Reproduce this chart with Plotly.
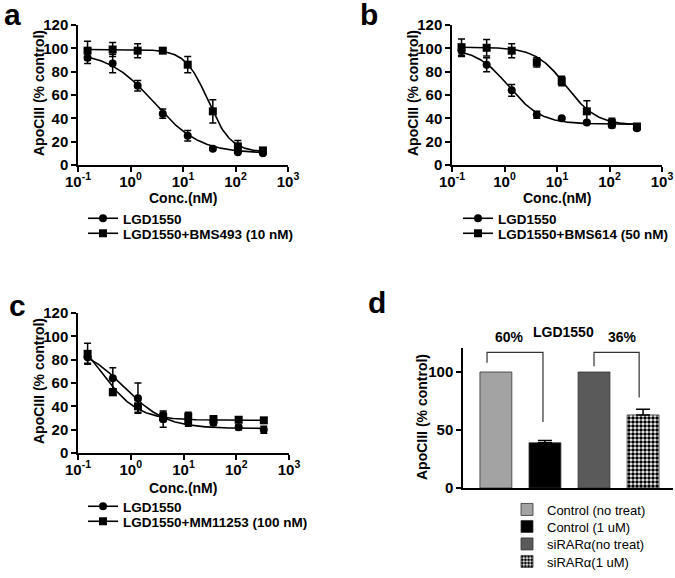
import numpy as np
import plotly.graph_objects as go

FONT = "Liberation Sans, Arial, sans-serif"

# ---------------- data ----------------
conc = [0.152, 0.457, 1.37, 4.12, 12.3, 37.0, 111.0, 333.0]
x_tickvals = [0.1, 1, 10, 100, 1000]
x_ticktext = ["10<sup>-1</sup>", "10<sup>0</sup>", "10<sup>1</sup>", "10<sup>2</sup>", "10<sup>3</sup>"]
y_tickvals = [0, 20, 40, 60, 80, 100, 120]
x_title = "Conc.(nM)"
y_title = "ApoCIII (% control)"

# panel a
a_lgd = [92, 87, 68, 44, 25, 14, 11, 10]
a_lgd_err = [5, 8, 4.5, 4, 4.5, 1, 1, 1]
a_bms = [98, 99, 98, 98, 86, 46, 16, 12.5]
a_bms_err = [8, 6, 6, 2, 7, 10, 5, 2]
# 4PL fit parameters: top, bottom, IC50, hill
a_lgd_fit = [97, 10, 2.8, 1.0]
a_bms_fit = [99, 11, 30, 2.0]

# panel b
b_lgd = [98, 86, 64, 43, 40, 36.5, 34, 31.5]
b_lgd_err = [5, 6, 5, 3, 1, 1, 1, 1]
b_bms = [101, 100.5, 98, 88, 72, 46, 36, 33]
b_bms_err = [7, 7, 6, 4, 4, 9, 4, 2]
b_lgd_fit = [100, 35, 1.2, 1.4]
b_bms_fit = [101, 34, 15, 1.5]

# panel c
c_lgd = [82, 64, 47, 29, 26, 26, 22, 20]
c_lgd_err = [5, 9, 13, 7, 3, 2, 2, 3]
c_mm = [85, 52, 40, 31, 31, 29, 28.5, 28]
c_mm_err = [9, 2, 5, 4, 4, 3, 2, 2]
c_lgd_fit = [92, 21, 0.75, 1.1]
c_mm_fit = [112, 28, 0.27, 1.25]

# panel d
d_categories = ["Control (no treat)", "Control (1 uM)", "siRARα(no treat)", "siRARα(1 uM)"]
d_values = [100, 39, 100, 63]
d_err = [0, 2, 0, 5]
d_pct_labels = ["60%", "36%"]
d_title = "LGD1550"

W, H = 675, 578


def px_x(p):
    return p / W


def px_y(p):
    return 1 - p / H


fig = go.Figure()


def curve(params, xs):
    top, bottom, ic50, hill = params
    xs = np.asarray(xs)
    return bottom + (top - bottom) / (1 + (xs / ic50) ** hill)


def add_dose_panel(xa, ya, legends, s1, e1, f1, name1, s2, e2, f2, name2):
    xs = np.logspace(np.log10(conc[0]), np.log10(conc[-1]), 200)
    for vals, err, fit, sym, name, leg in [(s1, e1, f1, "circle", name1, legends[0]),
                                           (s2, e2, f2, "square", name2, legends[1])]:
        fig.add_trace(go.Scatter(
            x=xs, y=curve(fit, xs), mode="lines", line=dict(color="black", width=1.6),
            xaxis=xa, yaxis=ya, showlegend=False, hoverinfo="skip"))
        fig.add_trace(go.Scatter(
            x=conc, y=vals, mode="markers",
            marker=dict(symbol=sym, size=8, color="black"),
            error_y=dict(type="data", array=err, color="black", thickness=1.5, width=3.5),
            xaxis=xa, yaxis=ya, showlegend=False, name=name))
        fig.add_trace(go.Scatter(
            x=[None], y=[None], mode="lines+markers",
            marker=dict(symbol=sym, size=8, color="black"),
            line=dict(color="black", width=1.6),
            xaxis=xa, yaxis=ya, name=name, legend=leg, showlegend=True))


add_dose_panel("x", "y", ["legend", "legend2"], a_lgd, a_lgd_err, a_lgd_fit, "LGD1550",
               a_bms, a_bms_err, a_bms_fit, "LGD1550+BMS493 (10 nM)")
add_dose_panel("x2", "y2", ["legend3", "legend4"], b_lgd, b_lgd_err, b_lgd_fit, "LGD1550",
               b_bms, b_bms_err, b_bms_fit, "LGD1550+BMS614 (50 nM)")
add_dose_panel("x3", "y3", ["legend5", "legend6"], c_lgd, c_lgd_err, c_lgd_fit, "LGD1550",
               c_mm, c_mm_err, c_mm_fit, "LGD1550+MM11253 (100 nM)")

# panel d bars
bar_colors = ["#a3a3a3", "#000000", "#5a5a5a", "#000000"]
for i, cat in enumerate(d_categories):
    marker = dict(color=bar_colors[i], line=dict(color="#333333", width=0.8))
    if i == 3:
        marker["pattern"] = dict(shape=".", fgcolor="black", bgcolor="white", size=4,
                                 solidity=0.62, fgopacity=1, fillmode="replace")
    kw = {}
    if d_err[i] > 0:
        kw["error_y"] = dict(type="data", symmetric=False, array=[d_err[i]], arrayminus=[0],
                             color="black", thickness=1.5, width=7)
    fig.add_trace(go.Bar(x=[cat], y=[d_values[i]], width=0.65, marker=marker, name=cat,
                         xaxis="x4", yaxis="y4", legend="legend%d" % (7 + i), **kw))

tickfont = dict(family=FONT, size=15, color="black", weight="bold")
titlefont = dict(family=FONT, size=14, color="black", weight="bold")


def dose_axes(xdom, ydom, anchor_x, anchor_y):
    xa = dict(domain=xdom, anchor=anchor_y, type="log", range=[-1, 3], tickvals=x_tickvals,
              ticktext=x_ticktext, ticks="outside", ticklen=5, tickwidth=1.5, tickcolor="black",
              showline=True, linecolor="black", linewidth=1.5, showgrid=False, zeroline=False,
              tickfont=tickfont, ticklabelstandoff=-3)
    ya = dict(domain=ydom, anchor=anchor_x, range=[0, 120], tickvals=y_tickvals,
              ticks="outside", ticklen=5, tickwidth=1.5, tickcolor="black",
              showline=True, linecolor="black", linewidth=1.5, showgrid=False, zeroline=False,
              tickfont=tickfont)
    return xa, ya


xa1, ya1 = dose_axes([px_x(78), px_x(288)], [px_y(165), px_y(25)], "x", "y")
xa2, ya2 = dose_axes([px_x(452), px_x(662)], [px_y(165), px_y(25)], "x2", "y2")
xa3, ya3 = dose_axes([px_x(78), px_x(289)], [px_y(453), px_y(313)], "x3", "y3")

xa4 = dict(domain=[px_x(463), px_x(673)], anchor="y4", type="category", range=[-0.67, 3.61],
           showticklabels=False, ticks="", showline=True, linecolor="black", linewidth=1.5,
           showgrid=False, zeroline=False)
ya4 = dict(domain=[px_y(488), px_y(348)], anchor="x4", range=[0, 120.7], tickvals=[0, 50, 100],
           ticks="outside", ticklen=5, tickwidth=1.5, tickcolor="black",
           showline=True, linecolor="black", linewidth=1.5, showgrid=False, zeroline=False,
           tickfont=tickfont)

legfont = dict(family=FONT, size=13.5, color="black", weight="bold")
legfont_d = dict(family=FONT, size=13, color="black")


def leg(xp, top, font):
    return dict(font=font, bgcolor="rgba(0,0,0,0)", borderwidth=0, xanchor="left", yanchor="top",
                xref="container", yref="container", x=xp / W, y=1 - top / H,
                itemclick=False, itemdoubleclick=False)


layout_legends = {
    "legend": leg(83, 203, legfont),
    "legend2": leg(83, 218, legfont),
    "legend3": leg(458, 203, legfont),
    "legend4": leg(458, 218, legfont),
    "legend5": leg(83, 491, legfont),
    "legend6": leg(83, 506, legfont),
    "legend7": leg(507, 494.5, legfont_d),
    "legend8": leg(507, 511.5, legfont_d),
    "legend9": leg(507, 529, legfont_d),
    "legend10": leg(507, 546.5, legfont_d),
}

fig.update_layout(
    width=W, height=H, margin=dict(l=0, r=0, t=0, b=0, autoexpand=False),
    paper_bgcolor="white", plot_bgcolor="white", barmode="overlay",
    xaxis=xa1, yaxis=ya1, xaxis2=xa2, yaxis2=ya2, xaxis3=xa3, yaxis3=ya3,
    xaxis4=xa4, yaxis4=ya4,
    **layout_legends,
)

# axis titles (placed precisely as paper annotations)
for x, y in [(39, 93), (413, 93), (39, 381), (422, 417)]:
    fig.add_annotation(text=y_title, x=px_x(x), y=px_y(y), xref="paper", yref="paper",
                       textangle=-90, showarrow=False, xanchor="center", yanchor="middle",
                       font=titlefont)
for x, y in [(183, 198), (557, 198), (183, 488)]:
    fig.add_annotation(text=x_title, x=px_x(x), y=px_y(y), xref="paper", yref="paper",
                       showarrow=False, xanchor="center", yanchor="middle", font=titlefont)

# brackets in panel d (category index coordinates)
brackets = [
    ([-0.18, -0.18, 0.96, 0.96], [108, 117, 117, 57]),
    ([2.0, 2.0, 2.92, 2.92], [105, 117, 117, 78]),
]
for bx, by in brackets:
    path = "M %f,%f L %f,%f L %f,%f L %f,%f" % (bx[0], by[0], bx[1], by[1], bx[2], by[2], bx[3], by[3])
    fig.add_shape(type="path", path=path, xref="x4", yref="y4",
                  line=dict(color="#333333", width=1.2))

annos = [
    (d_pct_labels[0], 509, 337),
    (d_title, 563, 332),
    (d_pct_labels[1], 622, 337),
]
for t, x, y in annos:
    fig.add_annotation(text=t, x=px_x(x), y=px_y(y), xref="paper", yref="paper", showarrow=False,
                       xanchor="center", yanchor="middle",
                       font=dict(family=FONT, size=14, color="black", weight="bold"))

for lab, x, y in [("a", 2, 15), ("b", 358, 15), ("c", 7, 305), ("d", 366, 302)]:
    fig.add_annotation(text=lab, x=px_x(x), y=px_y(y), xref="paper", yref="paper",
                       xanchor="left", yanchor="middle", showarrow=False,
                       font=dict(family=FONT, size=30, color="black", weight="bold"))

fig.write_html("out.html", config={"displayModeBar": False},
               post_script="document.body.style.margin='0';")
